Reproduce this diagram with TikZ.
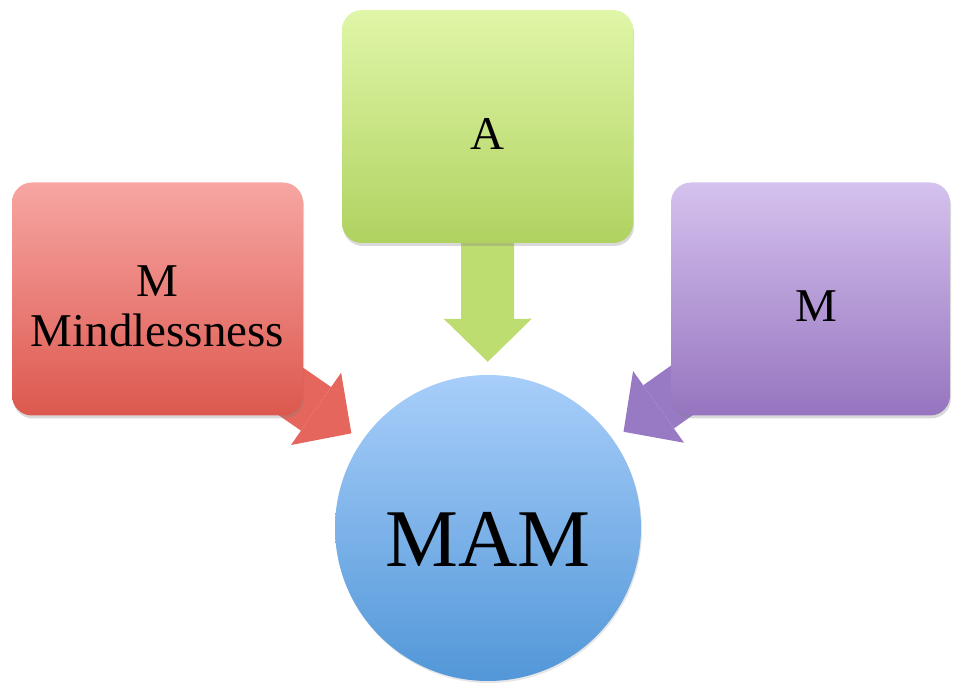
\documentclass[tikz,border=0pt]{standalone}
\usepackage{fontspec}
\setmainfont{Liberation Serif}
\usetikzlibrary{arrows.meta,backgrounds,shadows}

\definecolor{redtop}{RGB}{247,166,163}
\definecolor{redbot}{RGB}{220,88,78}
\definecolor{redarr}{RGB}{229,102,92}
\definecolor{greentop}{RGB}{224,246,168}
\definecolor{greenbot}{RGB}{176,210,96}
\definecolor{greenarr}{RGB}{190,221,112}
\definecolor{purptop}{RGB}{213,194,238}
\definecolor{purpbot}{RGB}{150,116,191}
\definecolor{purparr}{RGB}{152,121,195}
\definecolor{bluetop}{RGB}{168,206,250}
\definecolor{bluebot}{RGB}{82,151,216}

\tikzset{
    box/.style={rectangle, rounded corners=20pt, minimum width=291pt,
        minimum height=233pt, inner sep=0pt, align=center,
        font=\fontsize{47}{50}\selectfont,
        drop shadow={shadow xshift=1pt, shadow yshift=-3pt, opacity=0.3}},
    blockarrow/.style={line width=53pt,
        -{Triangle[width=88pt,length=43pt,line width=0pt]}, shorten >=13pt}
}

\begin{document}
\begin{tikzpicture}[x=1pt,y=-1pt]
    \useasboundingbox (0,0) rectangle (954,684);

    % the three boxes
    \node[box, top color=redtop, bottom color=redbot] (m1) at (157.5,299) {\rule{0pt}{45pt}M\\Mindlessness};
    \node[box, top color=greentop, bottom color=greenbot, text height=47pt, text depth=0pt] (a) at (487.5,126.5) {A};
    \node[box, minimum width=279pt, top color=purptop, bottom color=purpbot, text height=46pt, text depth=0pt] (m2) at (810.5,299) {\hspace*{12pt}M};

    % centre circle
    \node[circle, minimum size=306pt, inner sep=0pt, top color=bluetop, bottom color=bluebot,
        font=\fontsize{82}{90}\selectfont, text height=77pt, text depth=0pt,
        drop shadow={shadow xshift=1pt, shadow yshift=-2pt, opacity=0.2}] (mam) at (488,528) {MAM};

    % arrows into the circle
    \begin{scope}[on background layer]
        \draw[blockarrow, redarr] (m1.center) -- (mam);
        \draw[blockarrow, greenarr] (a.center) -- (mam);
        \draw[blockarrow, purparr] (m2.center) -- (mam);
    \end{scope}
\end{tikzpicture}
\end{document}
